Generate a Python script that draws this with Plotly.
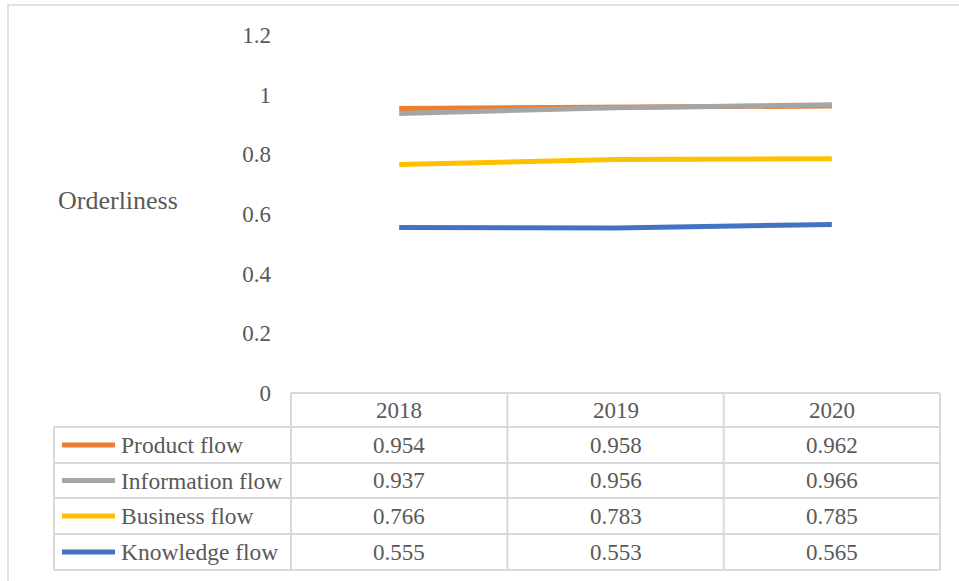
import plotly.graph_objects as go

# ---- data ----
years = ["2018", "2019", "2020"]
series_names = ["Product flow", "Information flow", "Business flow", "Knowledge flow"]
product_flow = [0.954, 0.958, 0.962]
information_flow = [0.937, 0.956, 0.966]
business_flow = [0.766, 0.783, 0.785]
knowledge_flow = [0.555, 0.553, 0.565]
y_ticks = [0, 0.2, 0.4, 0.6, 0.8, 1, 1.2]
axis_title = "Orderliness"

series_values = [product_flow, information_flow, business_flow, knowledge_flow]
colors = ["#ED7D31", "#A5A5A5", "#FFC000", "#4472C4"]

W, H = 959, 581
FONT = "Liberation Serif"
TXT = "#595959"
GRID = "#D9D9D9"


def px(x):
    return x / W


def py(y):
    return 1 - y / H


# plot area in pixels
left, right = 291, 940
top, bottom = 35, 393

fig = go.Figure()
for name, vals, col in zip(series_names, series_values, colors):
    fig.add_trace(go.Scatter(x=years, y=vals, mode="lines", name=name,
                             line=dict(color=col, width=5), showlegend=False))

fig.update_layout(
    template="none",
    width=W, height=H,
    margin=dict(l=0, r=0, t=0, b=0, pad=0, autoexpand=False),
    paper_bgcolor="white", plot_bgcolor="white",
    font=dict(family=FONT, color=TXT, size=23),
    xaxis=dict(domain=[px(left), px(right)], type="category", range=[-0.5, 2.5],
               showticklabels=False, showgrid=False, zeroline=False, showline=False,
               ticks="", automargin=False, fixedrange=True),
    yaxis=dict(domain=[py(bottom), py(top)], range=[0, 1.2], tickvals=y_ticks,
               ticktext=[f"{v:g}" for v in y_ticks], ticks="",
               showgrid=False, zeroline=False, showline=False, automargin=False,
               ticklabelstandoff=19, tickfont=dict(size=23, color=TXT, family=FONT)),
)

shapes = []
# outer chart border
shapes.append(dict(type="rect", xref="paper", yref="paper",
                   x0=px(8), x1=px(975), y0=py(600), y1=py(5),
                   line=dict(color=GRID, width=1.5), fillcolor="rgba(0,0,0,0)"))

# data table grid
row_edges = [393, 427, 463, 498, 534, 570]
leg_left = 54
col_w = (right - left) / len(years)
col_edges = [left + i * col_w for i in range(len(years) + 1)]

# header top line
shapes.append(dict(type="line", xref="paper", yref="paper",
                   x0=px(left), x1=px(right), y0=py(row_edges[0]), y1=py(row_edges[0]),
                   line=dict(color=GRID, width=2)))
for yy in row_edges[1:]:
    shapes.append(dict(type="line", xref="paper", yref="paper",
                       x0=px(leg_left), x1=px(right), y0=py(yy), y1=py(yy),
                       line=dict(color=GRID, width=2)))
shapes.append(dict(type="line", xref="paper", yref="paper",
                   x0=px(leg_left), x1=px(leg_left), y0=py(row_edges[1]), y1=py(row_edges[-1]),
                   line=dict(color=GRID, width=2)))
for xx in col_edges:
    shapes.append(dict(type="line", xref="paper", yref="paper",
                       x0=px(xx), x1=px(xx), y0=py(row_edges[0]), y1=py(row_edges[-1]),
                       line=dict(color=GRID, width=2)))

annotations = []
# header years
for i, yr in enumerate(years):
    cx = (col_edges[i] + col_edges[i + 1]) / 2
    cy = (row_edges[0] + row_edges[1]) / 2
    annotations.append(dict(xref="paper", yref="paper", x=px(cx), y=py(cy), text=yr,
                            showarrow=False, xanchor="center", yanchor="middle",
                            font=dict(size=23, color=TXT, family=FONT)))

# rows
for r, (name, vals, col) in enumerate(zip(series_names, series_values, colors)):
    cy = (row_edges[r + 1] + row_edges[r + 2]) / 2
    shapes.append(dict(type="line", xref="paper", yref="paper",
                       x0=px(62), x1=px(115), y0=py(cy), y1=py(cy),
                       line=dict(color=col, width=5)))
    annotations.append(dict(xref="paper", yref="paper", x=px(119), y=py(cy), text=name,
                            showarrow=False, xanchor="left", yanchor="middle",
                            font=dict(size=23.5, color=TXT, family=FONT)))
    for i, v in enumerate(vals):
        cx = (col_edges[i] + col_edges[i + 1]) / 2
        annotations.append(dict(xref="paper", yref="paper", x=px(cx), y=py(cy),
                                text=f"{v:.3f}", showarrow=False,
                                xanchor="center", yanchor="middle",
                                font=dict(size=23, color=TXT, family=FONT)))

# axis title
annotations.append(dict(xref="paper", yref="paper", x=px(56), y=py(200), text=axis_title,
                        showarrow=False, xanchor="left", yanchor="middle",
                        font=dict(size=26, color=TXT, family=FONT)))

fig.update_layout(shapes=shapes, annotations=annotations)
fig.write_html("out.html", config={"displayModeBar": False},
               post_script="document.body.style.margin='0';document.body.style.overflow='hidden';")
